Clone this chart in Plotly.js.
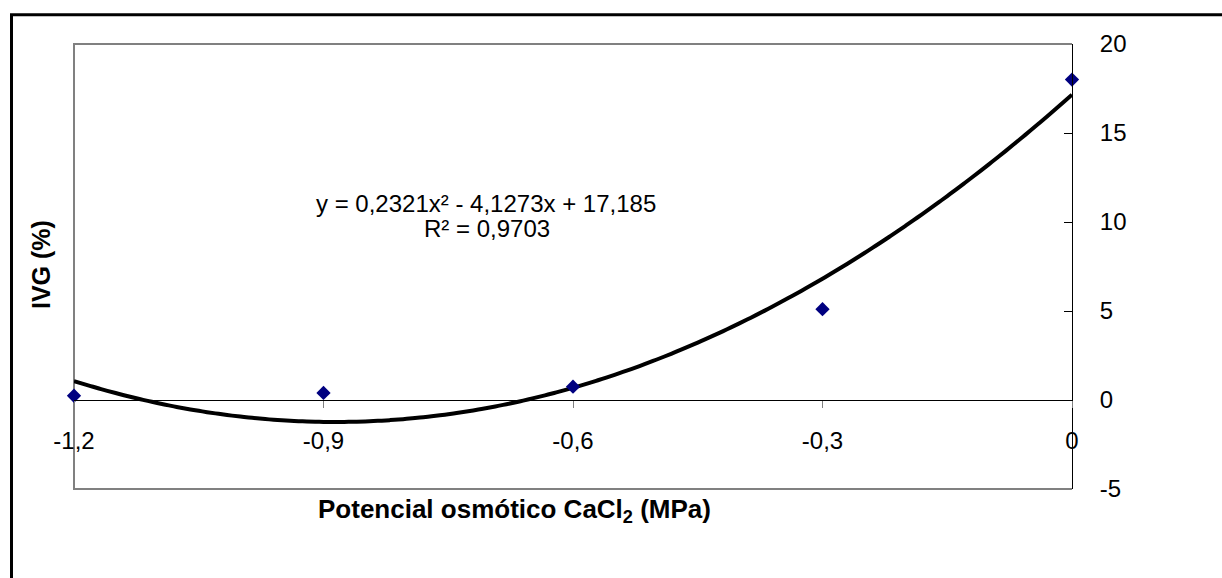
<!DOCTYPE html>
<html>
<head>
<meta charset="utf-8">
<script src="https://cdn.plot.ly/plotly-3.0.1.min.js"></script>
<style>
  html, body { margin: 0; padding: 0; background: #ffffff; }
  #chart { width: 1222px; height: 578px; }
</style>
</head>
<body>
<div id="chart"></div>
<script>
// ---- data ----
const potencial = [-1.2, -0.9, -0.6, -0.3, 0];
const ivg = [0.24, 0.4, 0.75, 5.1, 18.0];
const xTickVals = [-1.2, -0.9, -0.6, -0.3, 0];
const xTickText = ['-1,2', '-0,9', '-0,6', '-0,3', '0'];
const yTickVals = [-5, 0, 5, 10, 15, 20];
const yTickText = ['-5', '0', '5', '10', '15', '20'];
const equationText = 'y = 0,2321x² - 4,1273x + 17,185';
const r2Text = 'R² = 0,9703';
const xTitle = '<b>Potencial osmótico CaCl<sub>2</sub> (MPa)</b>';
const yTitle = '<b>IVG (%)</b>';

// ---- polynomial (order 2) least-squares trendline from the data ----
function quadFit(xs, ys) {
  let S = [0, 0, 0, 0, 0], T = [0, 0, 0];
  for (let i = 0; i < xs.length; i++) {
    let p = 1;
    for (let k = 0; k < 5; k++) { S[k] += p; p *= xs[i]; }
    p = 1;
    for (let k = 0; k < 3; k++) { T[k] += p * ys[i]; p *= xs[i]; }
  }
  const M = [[S[0], S[1], S[2], T[0]], [S[1], S[2], S[3], T[1]], [S[2], S[3], S[4], T[2]]];
  for (let c = 0; c < 3; c++) {
    let piv = c;
    for (let r = c + 1; r < 3; r++) if (Math.abs(M[r][c]) > Math.abs(M[piv][c])) piv = r;
    [M[c], M[piv]] = [M[piv], M[c]];
    for (let r = 0; r < 3; r++) {
      if (r === c) continue;
      const f = M[r][c] / M[c][c];
      for (let k = c; k < 4; k++) M[r][k] -= f * M[c][k];
    }
  }
  return [M[0][3] / M[0][0], M[1][3] / M[1][1], M[2][3] / M[2][2]];
}
const coef = quadFit(potencial, ivg);
const xMin = Math.min(...potencial), xMax = Math.max(...potencial);
const trendX = [], trendY = [];
const steps = 120;
for (let i = 0; i <= steps; i++) {
  const x = xMin + (xMax - xMin) * i / steps;
  trendX.push(x);
  trendY.push(coef[0] + coef[1] * x + coef[2] * x * x);
}

const FONT = 'Liberation Sans, Arial, Helvetica, sans-serif';

const traces = [
  {
    x: trendX, y: trendY, type: 'scatter', mode: 'lines',
    line: { color: '#000000', width: 4, shape: 'spline' },
    hoverinfo: 'skip', showlegend: false
  },
  {
    x: potencial, y: ivg, type: 'scatter', mode: 'markers',
    marker: { symbol: 'diamond', size: 11, color: '#000080', line: { width: 0 } },
    cliponaxis: false, showlegend: false
  }
];

// pixel helpers for decoration placement (plot area: x 74..1072, y 44..489)
const L = 74, R = 1072, T = 44, B = 489;
const px = v => (v - L) / (R - L);
const py = v => (B - v) / (B - T);

const layout = {
  width: 1222, height: 578,
  margin: { l: L, r: 1222 - R, t: T, b: 578 - B, pad: 0 },
  paper_bgcolor: '#ffffff', plot_bgcolor: '#ffffff',
  font: { family: FONT, size: 24, color: '#000000' },
  showlegend: false,
  xaxis: {
    range: [-1.2, 0], tickvals: xTickVals, ticktext: xTickText,
    anchor: 'free', position: 0.2,
    showline: true, linecolor: '#000000', linewidth: 1,
    ticks: 'outside', ticklen: 7, tickwidth: 1, tickcolor: '#808080',
    ticklabelstandoff: 12,
    showgrid: false, zeroline: false,
    tickfont: { family: FONT, size: 24, color: '#000000' }
  },
  yaxis: {
    range: [-5, 20], tickvals: yTickVals, ticktext: yTickText,
    side: 'right',
    showline: true, linecolor: '#000000', linewidth: 1,
    ticks: 'inside', ticklen: 8, tickwidth: 1, tickcolor: '#000000',
    ticklabelstandoff: 22,
    showgrid: false, zeroline: false,
    tickfont: { family: FONT, size: 24, color: '#000000' }
  },
  shapes: [
    { type: 'path', xref: 'paper', yref: 'paper', path: 'M1,1 L0,1 L0,0 L1,0',
      line: { color: '#808080', width: 2 }, layer: 'below' },
    { type: 'rect', xref: 'paper', yref: 'paper',
      x0: px(11.5), y0: py(650), x1: px(1300), y1: py(14.7),
      line: { color: '#000000', width: 3 }, layer: 'below' }
  ],
  annotations: [
    { text: equationText, xref: 'paper', yref: 'paper', x: px(486), y: py(203),
      xanchor: 'center', yanchor: 'middle', showarrow: false,
      font: { family: FONT, size: 24, color: '#000000' } },
    { text: r2Text, xref: 'paper', yref: 'paper', x: px(487), y: py(228),
      xanchor: 'center', yanchor: 'middle', showarrow: false,
      font: { family: FONT, size: 24, color: '#000000' } },
    { text: xTitle, xref: 'paper', yref: 'paper', x: px(514), y: py(510),
      xanchor: 'center', yanchor: 'middle', showarrow: false,
      font: { family: FONT, size: 26, color: '#000000' } },
    { text: yTitle, xref: 'paper', yref: 'paper', x: px(41), y: py(265),
      xanchor: 'center', yanchor: 'middle', showarrow: false, textangle: -90,
      font: { family: FONT, size: 25, color: '#000000' } }
  ]
};

Plotly.newPlot('chart', traces, layout, { staticPlot: true, displayModeBar: false });
</script>
</body>
</html>
